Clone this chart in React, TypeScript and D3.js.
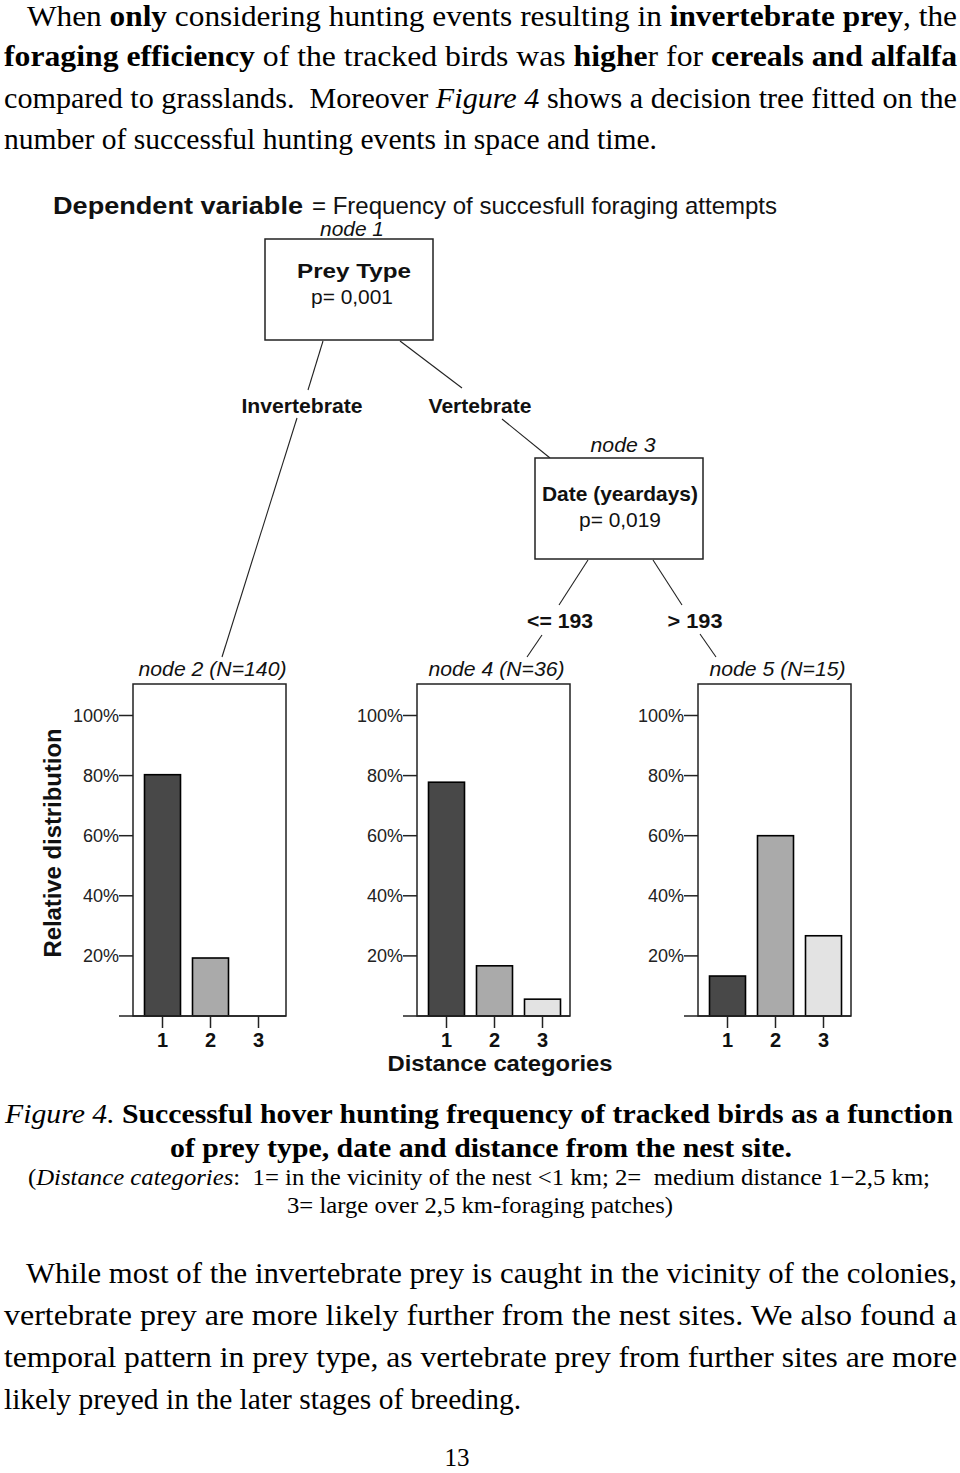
import React from 'react';
import * as d3 from 'd3';

// ---------- chart data ----------
const categories = ['1', '2', '3'];
const node2Values = [80.3, 19.3, 0];
const node4Values = [77.8, 16.7, 5.6];
const node5Values = [13.3, 60.0, 26.7];
const panelValues = [node2Values, node4Values, node5Values];
const panelTitles = ['node 2 (N=140)', 'node 4 (N=36)', 'node 5 (N=15)'];
const yTickValues = [20, 40, 60, 80, 100];
const barFills = ['#484848', '#aaaaaa', '#e3e3e3'];

const treeNodeIds = ['node 1', 'node 3'];
const treeNodeVariables = ['Prey Type', 'Date (yeardays)'];
const treeNodePValues = ['p= 0,001', 'p= 0,019'];
const splitLabels = ['Invertebrate', 'Vertebrate', '<= 193', '> 193'];

// ---------- layout (not data) ----------
const SANS = "'Liberation Sans', Arial, Helvetica, sans-serif";
const SERIF = "'Liberation Serif', 'Times New Roman', Times, serif";
const W = 960;
const H = 1473;

const PANEL_LEFTS = [133, 417, 698];
const PANEL_W = 153;
const PANEL_TOP = 684;
const PANEL_BOTTOM = 1016;
const Y_TOP = 715.5;

const treeBoxes = [
  { x0: 265, y0: 239, x1: 433, y1: 340, idY: 236, idCx: 352, idW: 64, varY: 278, varCx: 354, varW: 114, pY: 304, pCx: 352, pW: 82 },
  { x0: 535, y0: 458, x1: 703, y1: 559, idY: 452, idCx: 623, idW: 65, varY: 501, varCx: 620, varW: 156, pY: 527, pCx: 620, pW: 82 },
];
const splitLayout = [
  { cx: 302, y: 413, w: 121 },
  { cx: 480, y: 413, w: 103 },
  { cx: 560, y: 628, w: 66 },
  { cx: 695, y: 628, w: 55 },
];
const edges: [number, number, number, number][] = [
  [323, 341, 308, 390],
  [297, 418, 222, 657],
  [400, 341, 462, 388],
  [502, 419, 550, 458],
  [588, 560, 559, 605],
  [542, 635, 527, 657],
  [653, 560, 682, 605],
  [700, 634, 716, 657],
];

type Seg = { t: string; b?: boolean; i?: boolean };
type TextLine = { x: number; y: number; w: number; size: number; segs: Seg[] };

const topParagraph: TextLine[] = [
  { x: 27, y: 26, w: 930, size: 29, segs: [{ t: 'When ' }, { t: 'only', b: true }, { t: ' considering hunting events resulting in ' }, { t: 'invertebrate prey', b: true }, { t: ', the' }] },
  { x: 4, y: 66, w: 953, size: 29, segs: [{ t: 'foraging efficiency', b: true }, { t: ' of the tracked birds was ' }, { t: 'highe', b: true }, { t: 'r for ' }, { t: 'cereals and alfalfa', b: true }] },
  { x: 4, y: 108, w: 953, size: 29, segs: [{ t: 'compared to grasslands.  Moreover ' }, { t: 'Figure 4', i: true }, { t: ' shows a decision tree fitted on the' }] },
  { x: 4, y: 149, w: 653, size: 29, segs: [{ t: 'number of successful hunting events in space and time.' }] },
];

const captionLines: TextLine[] = [
  { x: 5, y: 1123, w: 948, size: 28, segs: [{ t: 'Figure 4.', i: true }, { t: ' Successful hover hunting frequency of tracked birds as a function', b: true }] },
  { x: 170, y: 1157, w: 622, size: 28, segs: [{ t: 'of prey type, date and distance from the nest site.', b: true }] },
  { x: 28, y: 1185, w: 902, size: 23, segs: [{ t: '(' }, { t: 'Distance categories', i: true }, { t: ':  1= in the vicinity of the nest <1 km; 2=  medium distance 1\u22122,5 km;' }] },
  { x: 287, y: 1213, w: 386, size: 23, segs: [{ t: '3= large over 2,5 km-foraging patches)' }] },
];

const bottomParagraph: TextLine[] = [
  { x: 26, y: 1283, w: 931, size: 29, segs: [{ t: 'While most of the invertebrate prey is caught in the vicinity of the colonies,' }] },
  { x: 4, y: 1325, w: 953, size: 29, segs: [{ t: 'vertebrate prey are more likely further from the nest sites. We also found a' }] },
  { x: 4, y: 1367, w: 953, size: 29, segs: [{ t: 'temporal pattern in prey type, as vertebrate prey from further sites are more' }] },
  { x: 4, y: 1409, w: 517, size: 29, segs: [{ t: 'likely preyed in the later stages of breeding.' }] },
];

function SerifLine({ line }: { line: TextLine }) {
  return (
    <text
      x={line.x}
      y={line.y}
      textLength={line.w}
      lengthAdjust="spacingAndGlyphs"
      fontFamily={SERIF}
      fontSize={line.size}
      fill="#000"
      style={{ whiteSpace: 'pre' }}
    >
      {line.segs.map((s, i) => (
        <tspan key={i} fontWeight={s.b ? 'bold' : 'normal'} fontStyle={s.i ? 'italic' : 'normal'}>
          {s.t}
        </tspan>
      ))}
    </text>
  );
}

function FitText(props: { cx: number; y: number; w: number; size: number; weight?: string; italic?: boolean; children: string }) {
  const { cx, y, w, size, weight, italic, children } = props;
  return (
    <text
      x={cx - w / 2}
      y={y}
      textLength={w}
      lengthAdjust="spacingAndGlyphs"
      fontFamily={SANS}
      fontSize={size}
      fontWeight={weight || 'normal'}
      fontStyle={italic ? 'italic' : 'normal'}
      fill="#111"
    >
      {children}
    </text>
  );
}

function Panel({ index }: { index: number }) {
  const left = PANEL_LEFTS[index];
  const values = panelValues[index];
  const y = d3.scaleLinear().domain([0, 100]).range([PANEL_BOTTOM, Y_TOP]);
  const x = d3
    .scaleBand<string>()
    .domain(categories)
    .range([left + 5.5, left + 149.5])
    .paddingInner(0.25)
    .paddingOuter(0.125);
  const titleW = index === 0 ? 148 : 136;
  return (
    <g>
      <FitText cx={left + PANEL_W / 2 + 3} y={676} w={titleW} size={21} italic>
        {panelTitles[index]}
      </FitText>
      {categories.map((c, i) =>
        values[i] > 0 ? (
          <rect
            key={c}
            x={x(c)!}
            y={y(values[i])}
            width={x.bandwidth()}
            height={PANEL_BOTTOM - y(values[i])}
            fill={barFills[i]}
            stroke="#000"
            strokeWidth={1.6}
          />
        ) : null
      )}
      <rect x={left} y={PANEL_TOP} width={PANEL_W} height={PANEL_BOTTOM - PANEL_TOP} fill="none" stroke="#222" strokeWidth={1.5} />
      <line x1={left - 14} x2={left + PANEL_W} y1={PANEL_BOTTOM} y2={PANEL_BOTTOM} stroke="#222" strokeWidth={1.5} />
      {yTickValues.map((v) => (
        <g key={v}>
          <line x1={left - 14} x2={left} y1={y(v)} y2={y(v)} stroke="#222" strokeWidth={1.5} />
          <text x={left - 14} y={y(v) + 6.5} textAnchor="end" fontFamily={SANS} fontSize={18} fill="#222">
            {`${v}%`}
          </text>
        </g>
      ))}
      {categories.map((c) => {
        const cx = x(c)! + x.bandwidth() / 2;
        return (
          <g key={c}>
            <line x1={cx} x2={cx} y1={PANEL_BOTTOM} y2={PANEL_BOTTOM + 12} stroke="#222" strokeWidth={1.5} />
            <text x={cx} y={1047} textAnchor="middle" fontFamily={SANS} fontSize={20} fontWeight="bold" fill="#111">
              {c}
            </text>
          </g>
        );
      })}
    </g>
  );
}

export default function App() {
  return (
    <svg
      width={W}
      height={H}
      viewBox={`0 0 ${W} ${H}`}
      style={{ position: 'absolute', left: 0, top: 0, display: 'block', background: '#fff' }}
    >
      <rect x={0} y={0} width={W} height={H} fill="#fff" />
      {topParagraph.map((l, i) => (
        <SerifLine key={`t${i}`} line={l} />
      ))}

      {/* header */}
      <text x={53} y={214} textLength={250} lengthAdjust="spacingAndGlyphs" fontFamily={SANS} fontSize={24} fontWeight="bold" fill="#111">
        Dependent variable
      </text>
      <text x={312} y={214} textLength={465} lengthAdjust="spacingAndGlyphs" fontFamily={SANS} fontSize={24} fill="#111">
        = Frequency of succesfull foraging attempts
      </text>

      {/* tree edges */}
      {edges.map((e, i) => (
        <line key={`e${i}`} x1={e[0]} y1={e[1]} x2={e[2]} y2={e[3]} stroke="#222" strokeWidth={1.1} />
      ))}

      {/* inner nodes */}
      {treeBoxes.map((b, i) => (
        <g key={`n${i}`}>
          <rect x={b.x0} y={b.y0} width={b.x1 - b.x0} height={b.y1 - b.y0} fill="#fff" stroke="#222" strokeWidth={1.5} />
          <FitText cx={b.idCx} y={b.idY} w={b.idW} size={21} italic>
            {treeNodeIds[i]}
          </FitText>
          <FitText cx={b.varCx} y={b.varY} w={b.varW} size={21} weight="bold">
            {treeNodeVariables[i]}
          </FitText>
          <FitText cx={b.pCx} y={b.pY} w={b.pW} size={21}>
            {treeNodePValues[i]}
          </FitText>
        </g>
      ))}

      {/* split labels */}
      {splitLabels.map((s, i) => (
        <FitText key={`s${i}`} cx={splitLayout[i].cx} y={splitLayout[i].y} w={splitLayout[i].w} size={21} weight="bold">
          {s}
        </FitText>
      ))}

      {/* terminal panels */}
      {panelValues.map((_, i) => (
        <Panel key={`p${i}`} index={i} />
      ))}

      {/* axis titles */}
      <text
        transform="translate(61,843) rotate(-90)"
        textAnchor="middle"
        textLength={229}
        lengthAdjust="spacingAndGlyphs"
        fontFamily={SANS}
        fontSize={23}
        fontWeight="bold"
        fill="#111"
      >
        Relative distribution
      </text>
      <FitText cx={500} y={1071} w={225} size={22} weight="bold">
        Distance categories
      </FitText>

      {captionLines.map((l, i) => (
        <SerifLine key={`c${i}`} line={l} />
      ))}
      {bottomParagraph.map((l, i) => (
        <SerifLine key={`b${i}`} line={l} />
      ))}
      <text x={457} y={1466} textAnchor="middle" fontFamily={SERIF} fontSize={25} fill="#000">
        13
      </text>
    </svg>
  );
}
